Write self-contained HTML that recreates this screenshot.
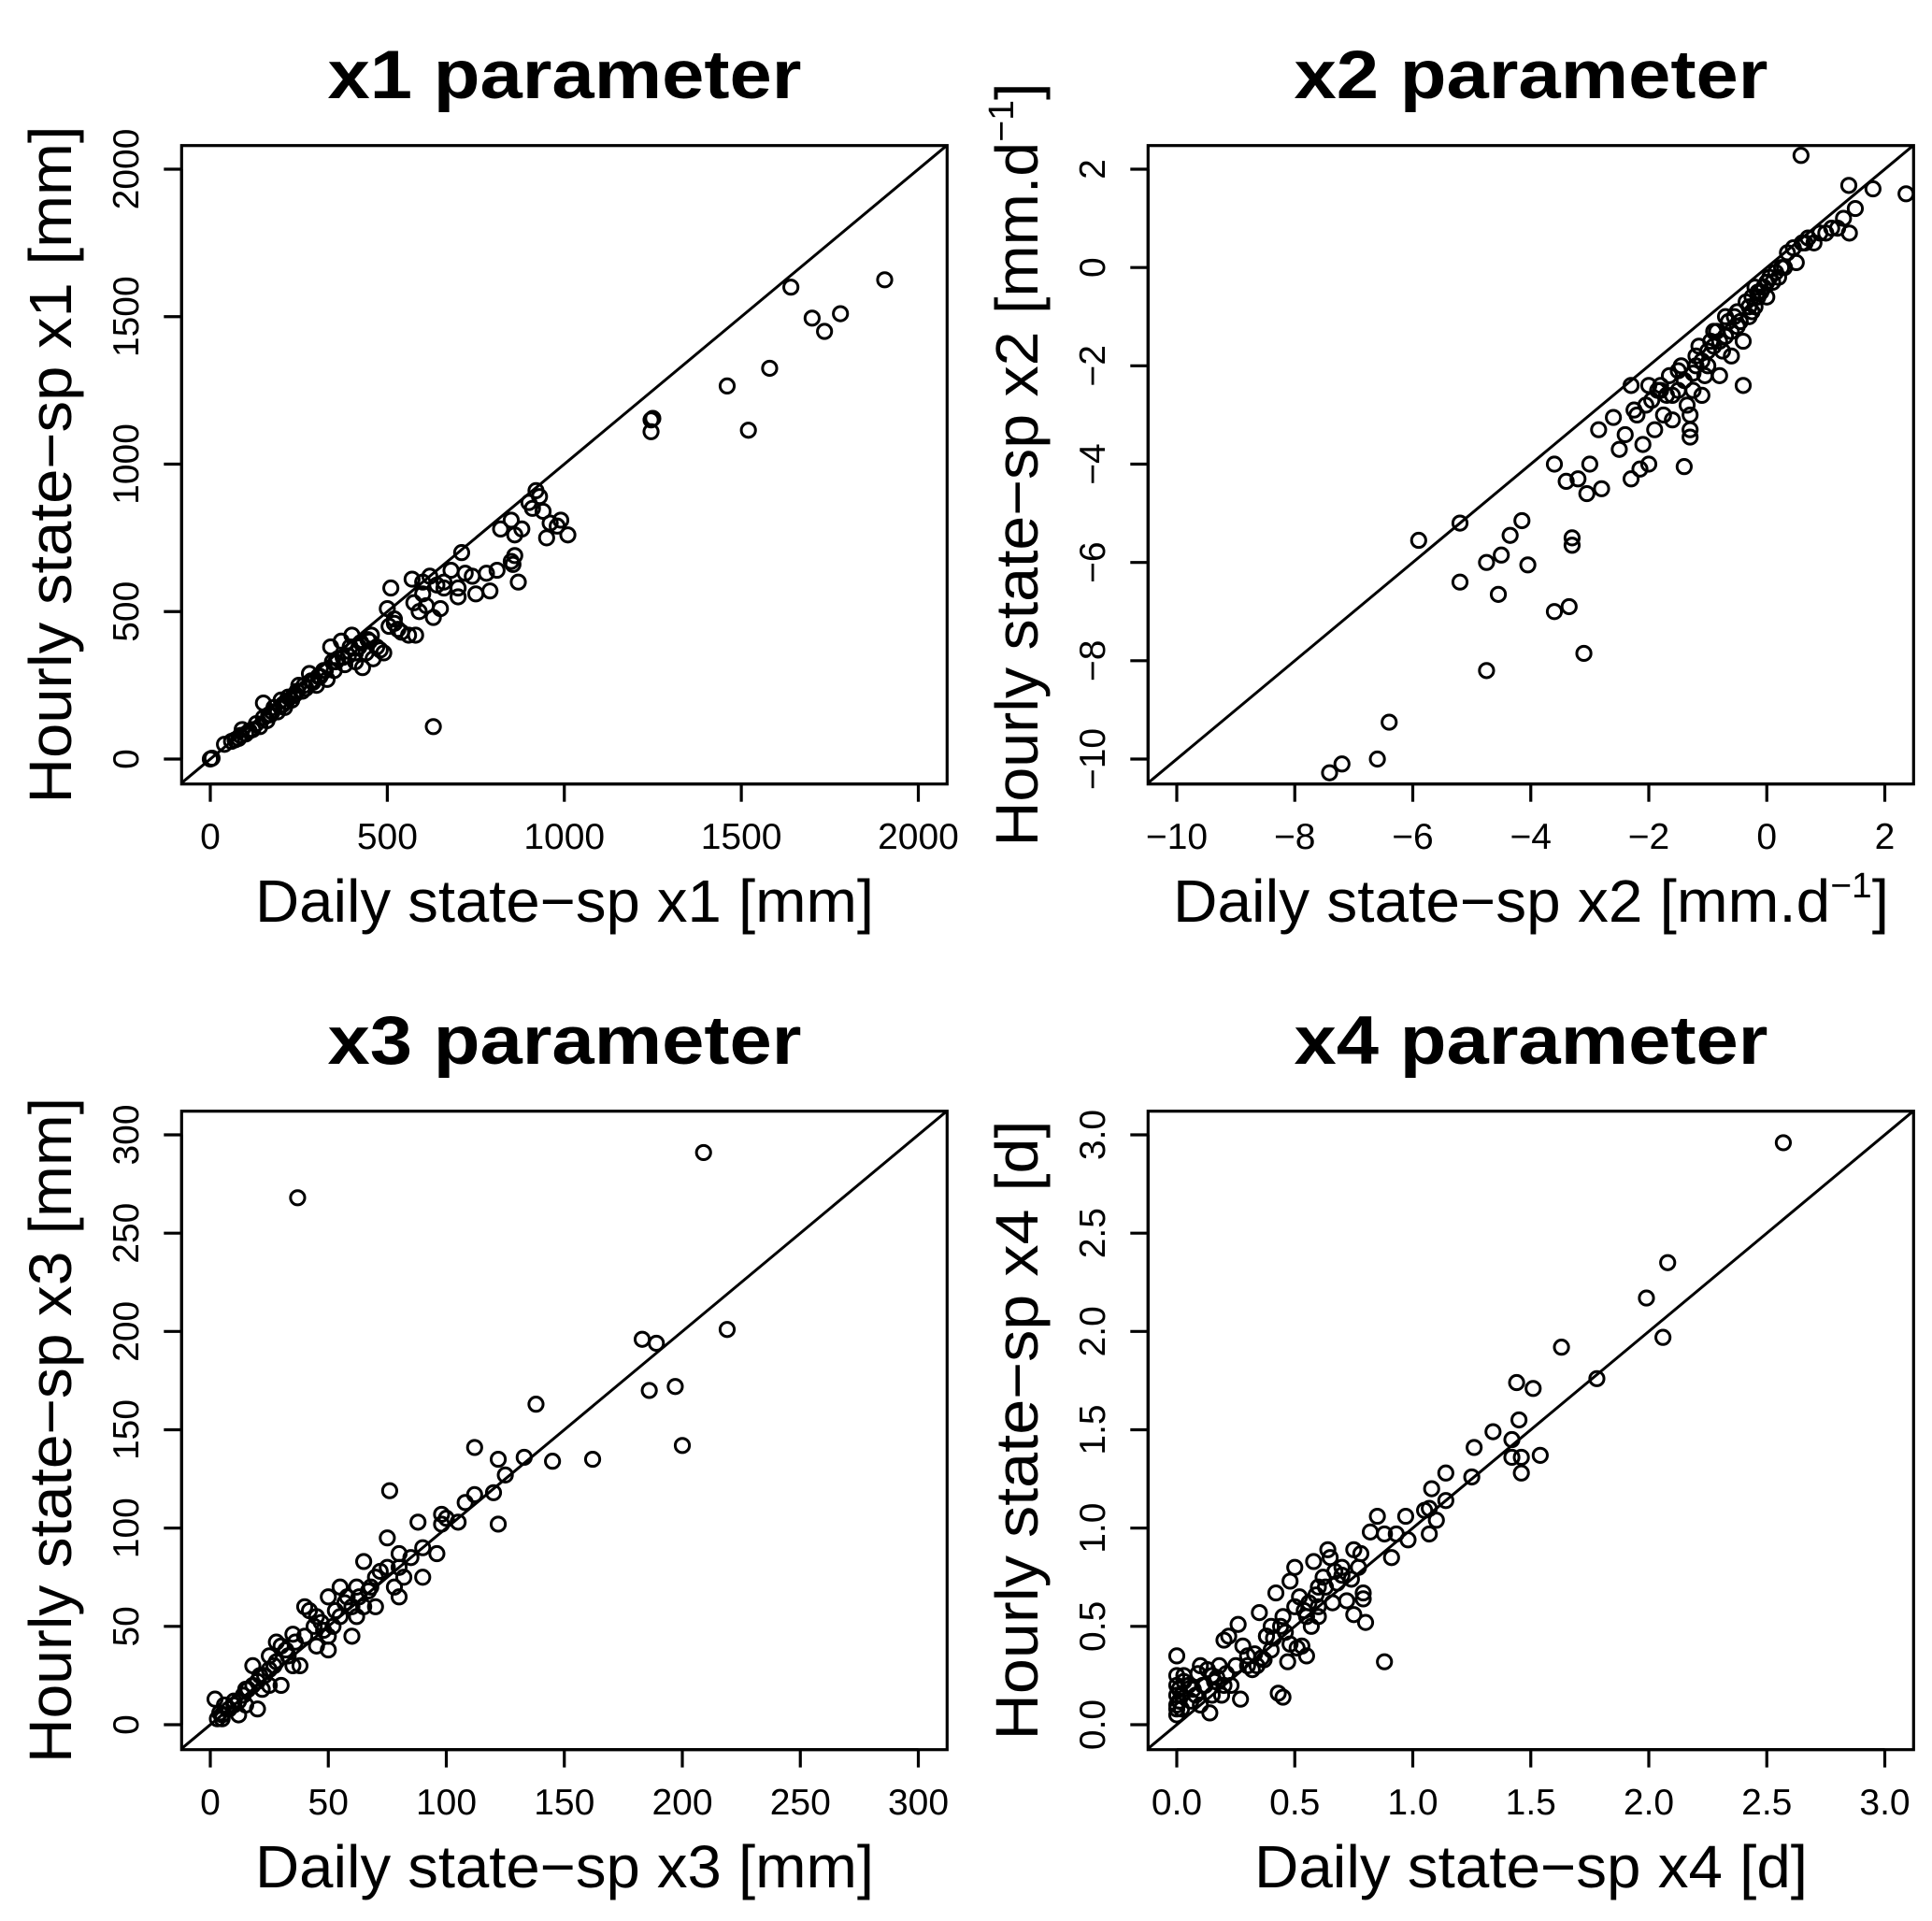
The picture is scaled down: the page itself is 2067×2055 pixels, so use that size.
<!DOCTYPE html>
<html><head><meta charset="utf-8"><style>
html,body{margin:0;padding:0;background:#fff;width:2067px;height:2055px;overflow:hidden}
svg{display:block;font-family:"Liberation Sans",Arial,sans-serif}
</style></head><body>
<svg id="fig" width="2067" height="2055" viewBox="0 0 2067 2055" xmlns="http://www.w3.org/2000/svg"></svg>
<script>
// ---- Panel 1 data (x1) ----
const x1Daily=[0,5,40,60,80,90,100,110,130,140,150,160,170,180,190,200,210,220,230,240,250,260,270,280,290,300,310,320,330,340,350,360,370,380,390,400,410,420,430,440,450,460,470,480,490,500,505,510,520,530,540,560,570,575,580,590,600,610,620,630,640,650,660,680,700,700,710,720,740,750,780,790,810,820,850,855,860,860,870,880,900,910,920,930,940,950,960,980,990,1010,850,630,1905,1780,1700,1735,1640,1580,1460,1520,1245,1245,1250,120,175,245,265,410,395,355,150,205,235,285,325,375,425,455,345,305,215,165,85,70,445,520,600,660];
const x1Hourly=[0,3,50,60,70,100,85,95,120,110,190,130,150,175,160,200,175,210,200,220,250,230,240,290,260,250,280,300,270,380,300,340,400,320,350,420,330,380,310,360,400,340,380,370,360,510,450,580,460,440,430,420,610,530,420,500,600,520,620,480,590,510,600,640,580,550,700,630,620,560,630,570,640,780,810,660,760,690,600,780,870,850,910,890,840,750,800,790,810,760,670,110,1625,1510,1495,1450,1600,1325,1265,1115,1150,1110,1155,100,160,230,250,360,380,330,140,185,215,265,300,345,395,420,330,280,195,150,80,65,405,475,560,580];
// ---- Panel 2 data (x2) ----
const x2Daily=[0.58,2.36,1.39,1.8,1.5,1.2,1.4,1.0,0.8,0.6,0.5,0.3,-7.41,-7.2,-6.6,-6.4,-5.9,-5.2,-5.2,-4.75,-4.75,-4.5,-4.55,-4.35,-4.15,-4.05,-3.6,-3.6,-3.4,-3.3,-3.3,-3.35,-3.2,-3.1,-3.0,-3.05,-2.85,-2.8,-2.6,-2.5,-2.3,-2.3,-2.25,-2.15,-2.1,-2.0,-1.9,-1.8,-1.75,-1.7,-1.6,-1.5,-1.4,-1.4,-1.3,-1.3,-1.2,-1.1,-1.0,-0.9,-0.8,-0.7,-0.6,-0.5,-0.4,-0.3,-0.2,-0.1,0,0.1,0.2,-0.4,-2.0,-1.8,-1.25,-1.0,-0.6,-0.3,-1.5,-1.2,-0.9,-0.7,-0.5,-0.2,0.0,-1.6,-1.1,-0.8,-0.45,-0.15,0.35,0.7,0.9,-1.35,-1.05,-0.75,-0.25,-2.4,-1.95,-0.35,-0.55,-0.65,-0.85,-0.95,-1.15,-1.45,-1.65,-0.05,0.05,0.15,0.25,0.45,0.65,1.1,1.3,-0.15,-0.25,-1.3,-1.25,-1.85,-2.05,-2.2];
const x2Hourly=[2.28,1.5,1.67,1.6,1.2,0.8,0.7,0.7,0.5,0.5,0.1,0,-10.28,-10.1,-10,-9.25,-5.55,-5.2,-6.4,-6.0,-8.2,-5.85,-6.65,-5.45,-5.15,-6.05,-4.0,-7.0,-4.35,-5.5,-5.65,-6.9,-4.3,-7.85,-4.0,-4.6,-3.3,-4.5,-3.05,-3.7,-2.4,-4.3,-2.9,-4.1,-3.6,-4.0,-3.3,-2.5,-3.0,-2.6,-3.1,-2.5,-2.3,-4.05,-3.0,-3.45,-2.0,-2.6,-2.0,-1.6,-2.2,-1.4,-1.8,-1.2,-1.5,-1.0,-0.8,-0.5,-0.6,-0.3,-0.2,-2.4,-2.4,-2.4,-2.15,-1.7,-1.3,-0.8,-2.1,-1.8,-1.3,-1.0,-0.9,-0.4,-0.3,-2.6,-1.9,-1.5,-1.1,-0.6,0.3,0.6,0.7,-2.8,-2.2,-1.7,-0.9,-3.4,-2.7,-0.7,-1.0,-1.1,-1.3,-1.5,-1.6,-2.0,-2.2,-0.4,-0.2,-0.1,0.0,0.4,0.5,0.8,1.0,-0.5,-0.6,-3.3,-2.5,-2.5,-2.8,-3.0];
// ---- Panel 3 data (x3) ----
const x3Daily=[37,209,219,183,189,186,197,200,162,145,138,133,125,122,122,112,112,108,120,98,98,96,88,90,80,80,78,76,75,70,65,62,60,55,50,48,45,42,40,38,35,33,30,28,25,23,20,18,16,14,12,10,8,5,3,2,20,15,30,40,50,55,60,65,70,75,80,85,90,100,105,45,35,25,22,28,52,58,62,68,72,82,50,5,6,12,18,25,32,36,44,47,53,57,63,67,27,21,15,10,4];
const x3Hourly=[268,291,201,196,194,170,172,142,135,134,163,136,127,102,135,141,117,113,118,107,102,87,103,75,87,80,70,119,95,75,83,70,60,55,65,48,40,58,45,30,46,35,40,32,28,25,22,20,18,15,12,10,8,5,3,13,8,10,20,60,38,70,45,60,60,80,65,85,90,105,103,55,30,35,18,42,50,65,55,70,78,75,45,3,10,5,30,20,38,42,50,52,58,62,65,68,30,25,18,12,6];
// ---- Panel 4 data (x4) ----
const x4Daily=[2.57,2.08,1.99,2.06,1.78,1.63,1.44,1.51,1.45,1.42,1.34,1.26,1.25,1.42,1.46,1.46,1.54,1.14,1.14,1.08,1.07,1.05,1.1,1.07,0.97,0.98,0.93,0.88,0.85,0.82,0.91,0.88,0.79,0.79,0.8,0.75,0.75,0.78,0.7,0.65,0.64,0.6,0.6,0.55,0.58,0.5,0.5,0.48,0.45,0.42,0.4,0.38,0.35,0.3,0.28,0.26,0.22,0.2,0.18,0.15,0.12,0.1,0.08,0.05,0.03,0.02,0,0,0,0,0,0,0,0.01,0.14,0.45,0.43,0.53,0.55,0.57,0.47,0.66,0.72,0.62,0.68,0.7,0.52,0.3,0.25,0.2,0.1,0.15,0.32,0.36,0.4,0.27,0.38,0.6,0.48,0.51,0.09,0.16,0.01,0.02,0.03,0.06,0.07,0.11,0.13,0.17,0.19,0.21,0.23,0.33,0.34,0.37,0.41,0.44,0.46,0.54,0.56,0.59,0.63,0.67,0.74,0.77];
const x4Hourly=[2.96,2.35,2.17,1.97,1.76,1.92,1.74,1.71,1.55,1.45,1.49,1.41,1.26,1.36,1.36,1.28,1.37,1.28,1.14,1.2,1.1,1.09,1.04,0.97,1.06,0.94,0.97,0.97,1.06,0.98,0.85,0.32,0.67,0.64,0.52,0.56,0.89,0.87,0.8,0.85,0.89,0.7,0.6,0.55,0.83,0.8,0.6,0.73,0.55,0.67,0.5,0.45,0.57,0.35,0.4,0.51,0.45,0.43,0.3,0.25,0.2,0.3,0.15,0.2,0.25,0.15,0.35,0.25,0.2,0.15,0.1,0.08,0.05,0.12,0.06,0.14,0.16,0.4,0.35,0.5,0.32,0.62,0.63,0.75,0.72,0.76,0.65,0.3,0.3,0.2,0.1,0.15,0.28,0.34,0.38,0.13,0.45,0.55,0.41,0.39,0.26,0.22,0.18,0.08,0.22,0.12,0.18,0.2,0.28,0.24,0.15,0.26,0.2,0.36,0.3,0.33,0.44,0.5,0.47,0.58,0.62,0.66,0.7,0.78,0.74,0.8];
// ---- tick labels ----
const x1Ticks=[0,500,1000,1500,2000];
const x2XTicks=[-10,-8,-6,-4,-2,0,2];
const x2YTicks=[-10,-8,-6,-4,-2,0,2];
const x3Ticks=[0,50,100,150,200,250,300];
const x4Ticks=["0.0","0.5","1.0","1.5","2.0","2.5","3.0"];

const NS="http://www.w3.org/2000/svg";
const svg=document.getElementById('fig');
function mk(tag,attrs,parent){const e=document.createElementNS(NS,tag);for(const k in attrs)e.setAttribute(k,attrs[k]);(parent||svg).appendChild(e);return e;}
const BOX={l:194.3,r:1013.3,t:155.7,b:838.7};
const PX={lo:225,hi:982.5}, PY={lo:812,hi:181};

const panels=[
 {id:'x1',ox:0,oy:0,xs:x1Daily,ys:x1Hourly,xd:[0,2000],yd:[0,2000],xt:x1Ticks,yt:x1Ticks,title:'x1 parameter',xl:['Daily state\u2212sp x1 [mm]'],yl:['Hourly state\u2212sp x1 [mm]'],xlw:662,ylw:725},
 {id:'x2',ox:1034,oy:0,xs:x2Daily,ys:x2Hourly,xd:[-10,2],yd:[-10,2],xt:x2XTicks,yt:x2YTicks,title:'x2 parameter',xl:['Daily state\u2212sp x2 [mm.d','\u22121',']'],yl:['Hourly state\u2212sp x2 [mm.d','\u22121',']'],xlw:766,ylw:817},
 {id:'x3',ox:0,oy:1033,xs:x3Daily,ys:x3Hourly,xd:[0,300],yd:[0,300],xt:x3Ticks,yt:x3Ticks,title:'x3 parameter',xl:['Daily state\u2212sp x3 [mm]'],yl:['Hourly state\u2212sp x3 [mm]'],xlw:662,ylw:712},
 {id:'x4',ox:1034,oy:1033,xs:x4Daily,ys:x4Hourly,xd:[0,3],yd:[0,3],xt:x4Ticks,yt:x4Ticks,title:'x4 parameter',xl:['Daily state\u2212sp x4 [d]'],yl:['Hourly state\u2212sp x4 [d]'],xlw:592,ylw:663}
];

function addLabel(g,parts,attrs,name){
  const t=mk('text',attrs,g);
  
  
  t.appendChild(document.createTextNode(parts[0]));
  if(parts.length>1){
    const s=mk('tspan',{'font-size':'38','dy':'-26'},t);s.textContent=parts[1];
    const e=mk('tspan',{'dy':'26'},t);e.textContent=parts[2];
  }
  return t;
}

panels.forEach(p=>{
  const g=mk('g',{transform:`translate(${p.ox},${p.oy})`});
  
  
  const sx=v=>PX.lo+(v-p.xd[0])/(p.xd[1]-p.xd[0])*(PX.hi-PX.lo);
  const sy=v=>PY.lo+(v-p.yd[0])/(p.yd[1]-p.yd[0])*(PY.hi-PY.lo);
  const ix=px=>p.xd[0]+(px-PX.lo)/(PX.hi-PX.lo)*(p.xd[1]-p.xd[0]);
  const iy=py=>p.yd[0]+(py-PY.lo)/(PY.hi-PY.lo)*(p.yd[1]-p.yd[0]);
  const tt=mk('text',{x:604,y:105,'text-anchor':'middle','font-size':'73','font-weight':'bold',textLength:507,lengthAdjust:'spacingAndGlyphs'},g);
  tt.textContent=p.title;
  
  
  const cid='clip-'+p.id;
  const cp=mk('clipPath',{id:cid},g);
  mk('rect',{x:BOX.l,y:BOX.t,width:BOX.r-BOX.l,height:BOX.b-BOX.t},cp);
  // 1:1 line restricted to box
  const lo=Math.max(ix(BOX.l),iy(BOX.b)), hi=Math.min(ix(BOX.r),iy(BOX.t));
  const ln=mk('line',{x1:sx(lo),y1:sy(lo),x2:sx(hi),y2:sy(hi),stroke:'#000','stroke-width':3},g);
  
  
  const pg=mk('g',{'clip-path':`url(#${cid})`},g);
  
  
  for(let i=0;i<p.xs.length;i++){
    const c=mk('circle',{cx:sx(p.xs[i]),cy:sy(p.ys[i]),r:7.6,fill:'none',stroke:'#000','stroke-width':3},pg);
    
    
  }
  const bx=mk('rect',{x:BOX.l,y:BOX.t,width:BOX.r-BOX.l,height:BOX.b-BOX.t,fill:'none',stroke:'#000','stroke-width':3.2},g);
  
  
  const xa=mk('g',{},g);
  
  
  const xv=p.xt.map(Number);
  mk('line',{x1:sx(xv[0]),x2:sx(xv[xv.length-1]),y1:BOX.b,y2:BOX.b,stroke:'#000','stroke-width':3.2},xa);
  p.xt.forEach(t=>{
    const x=sx(Number(t));
    mk('line',{x1:x,x2:x,y1:BOX.b,y2:BOX.b+19,stroke:'#000','stroke-width':3.2},xa);
    const tl=mk('text',{x:x,y:908,'text-anchor':'middle','font-size':'39'},xa);
    tl.textContent=String(t).replace('-','\u2212');
    
    
  });
  const ya=mk('g',{},g);
  
  
  const yv=p.yt.map(Number);
  mk('line',{y1:sy(yv[0]),y2:sy(yv[yv.length-1]),x1:BOX.l,x2:BOX.l,stroke:'#000','stroke-width':3.2},ya);
  p.yt.forEach(t=>{
    const y=sy(Number(t));
    mk('line',{y1:y,y2:y,x1:BOX.l,x2:BOX.l-19,stroke:'#000','stroke-width':3.2},ya);
    const tl=mk('text',{x:0,y:0,transform:`translate(148,${y}) rotate(-90)`,'text-anchor':'middle','font-size':'39'},ya);
    tl.textContent=String(t).replace('-','\u2212');
    
    
  });
  addLabel(g,p.xl,{x:604,y:986,'text-anchor':'middle','font-size':'64',textLength:p.xlw,lengthAdjust:'spacingAndGlyphs'},'x-axis-title');
  addLabel(g,p.yl,{x:0,y:0,transform:'translate(76,497) rotate(-90)','text-anchor':'middle','font-size':'64',textLength:p.ylw,lengthAdjust:'spacingAndGlyphs'},'y-axis-title');
});
</script>
</body></html>
